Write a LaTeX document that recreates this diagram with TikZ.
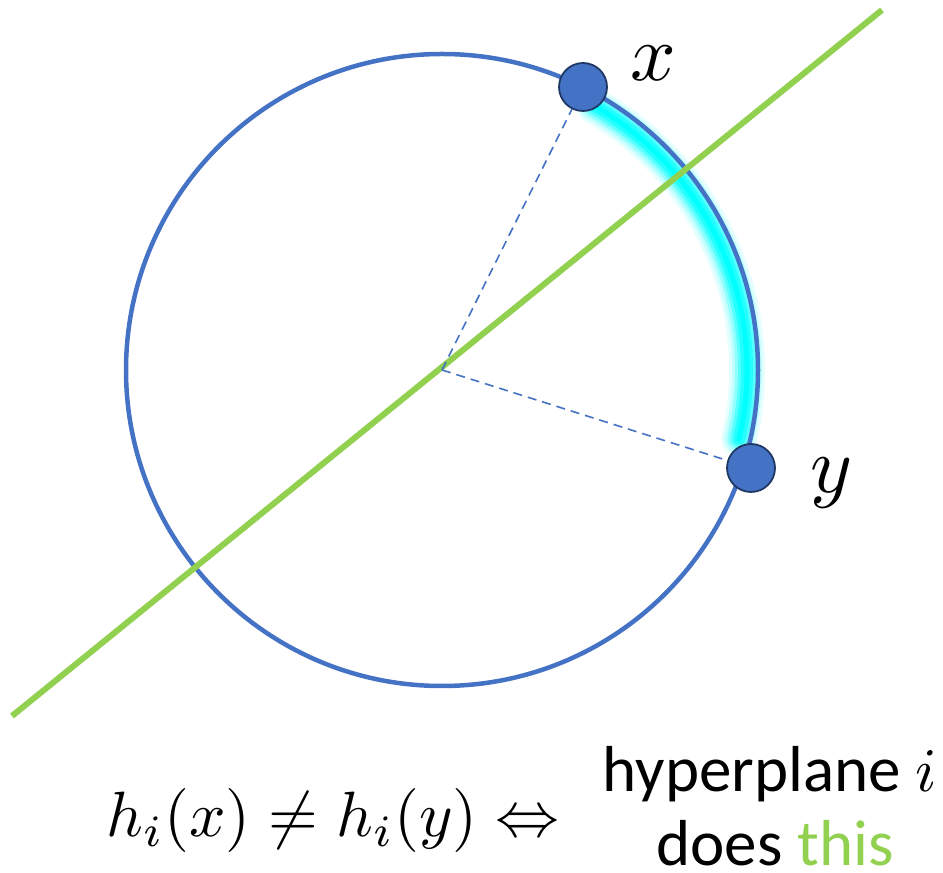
\documentclass[tikz,border=0pt]{standalone}
\usepackage{fontspec}
\setmainfont{Carlito}
\usetikzlibrary{calc}
\definecolor{cblue}{HTML}{4472C4}
\definecolor{cgreen}{HTML}{92D050}
\definecolor{cdark}{HTML}{1F3864}
\definecolor{glowc}{RGB}{0,255,255}
\begin{document}
\begin{tikzpicture}[x=1pt,y=1pt,
  circ/.style={draw=cblue,line width=4.5pt},
  plane/.style={draw=cgreen,line width=6pt},
  dot/.style={circle,fill=cblue,draw=cdark,line width=1.8pt,minimum size=48pt,inner sep=0pt},
  radius line/.style={draw=cblue,dashed,line width=1.6pt,dash pattern=on 9pt off 6pt},
  glow/.style={draw=glowc,line cap=round},
  lab/.style={inner sep=0pt,scale=8},
  txt/.style={inner sep=0pt,anchor=base,font=\fontsize{65}{75}\selectfont}
]
\useasboundingbox (0,0) rectangle (943,873);
\coordinate (c) at (442,503);
% glow
\foreach \w/\o in {36/0.1,30/0.15,24/0.25,18/0.4,12/0.6,5/1}{
  \draw[glow,line width=\w pt,opacity=\o] ($(c)+(60:305)$) arc[start angle=60,end angle=-13,radius=305];
}
\draw[circ] (c) circle[radius=316];
\coordinate (gA) at (12,157);
\coordinate (gB) at (882,863);
\draw[plane] (gA) -- (gB);
\node[dot] (px) at (583,786) {};
\node[dot] (py) at (751,405) {};
\draw[radius line] (c) -- (px);
\draw[radius line] (c) -- (py);
\node[lab] (lx) at (653,810) {$x$};
\node[lab] (ly) at (832,390) {$y$};
\node[inner sep=0pt,anchor=base west,scale=6.4] (f) at (105,36) {$h_i(x)\neq h_i(y)\Leftrightarrow$};
\node[txt] (t1) at (770,81) {hyperplane \scalebox{6.2}{\normalsize$i$}};
\node[txt] (t2) at (775,7) {does \textcolor{cgreen}{this}};
\end{tikzpicture}
\end{document}
